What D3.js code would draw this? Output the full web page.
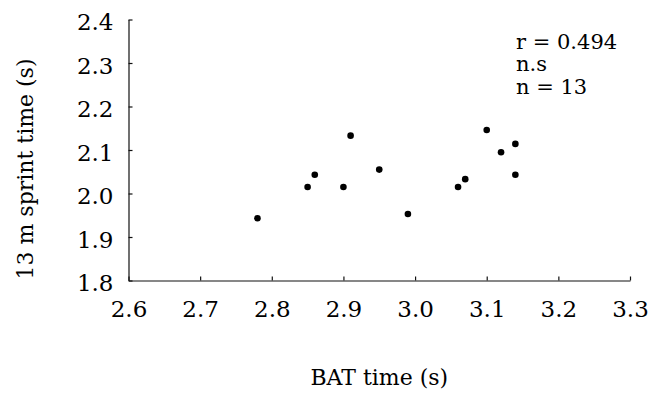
<!DOCTYPE html>
<html>
<head>
<meta charset="utf-8">
<script src="https://cdn.jsdelivr.net/npm/d3@7"></script>
<style>
    body { margin: 0; background: #fff; }
    svg { display: block; }
</style>
</head>
<body>
<div id="container"><svg></svg></div>
<script>
// BAT time (s) vs 13 m sprint time (s), one entry per subject
let bat_time = [2.78, 2.85, 2.86, 2.90, 2.91, 2.95, 2.99, 3.06, 3.07, 3.10, 3.12, 3.14, 3.14];
let sprint_time = [1.943, 2.015, 2.043, 2.015, 2.133, 2.055, 1.953, 2.015, 2.033, 2.146, 2.095, 2.114, 2.043];

let x_ticks = [2.6, 2.7, 2.8, 2.9, 3.0, 3.1, 3.2, 3.3];
let y_ticks = [1.8, 1.9, 2.0, 2.1, 2.2, 2.3, 2.4];
let stat_lines = ['r = 0.494', 'n.s', 'n = 13'];

let fontFamily = 'DejaVu Serif';

function draw_main(width, height) {
    let padding = {'left': 128.5, 'right': width - 630, 'top': 19.5, 'bottom': height - 280.5};
    let svg = d3.select('#container')
        .select('svg')
        .attr('width', width)
        .attr('height', height)
        .style('font-family', fontFamily);

    let data = bat_time.map((d, i) => ({x: d, y: sprint_time[i]}));

    let x = d3.scaleLinear()
        .domain([2.6, 3.3])
        .range([padding.left, width - padding.right]);
    let y = d3.scaleLinear()
        .domain([1.8, 2.4])
        .range([height - padding.bottom, padding.top]);

    // x axis, ticks point inward
    let axis_x = d3.axisBottom(x)
        .tickValues(x_ticks)
        .tickFormat(d3.format('.1f'))
        .tickSizeInner(-4)
        .tickSizeOuter(0)
        .tickPadding(20.5);
    let gx = svg.append('g')
        .attr('transform', `translate(0, ${height - padding.bottom})`)
        .call(axis_x)
        .attr('font-family', null)
        .attr('font-size', null);

    // y axis
    let axis_y = d3.axisLeft(y)
        .tickValues(y_ticks)
        .tickFormat(d3.format('.1f'))
        .tickSizeInner(-4)
        .tickSizeOuter(0)
        .tickPadding(15);
    let gy = svg.append('g')
        .attr('transform', `translate(${padding.left}, 0)`)
        .call(axis_y)
        .attr('font-family', null)
        .attr('font-size', null);
    gy.selectAll('.tick text').attr('dy', '0.45em');

    [gx, gy].forEach(g => {
        g.selectAll('path, line').attr('stroke', '#111').attr('stroke-width', 1.2);
        g.selectAll('text')
            .attr('fill', '#000')
            .style('font-family', fontFamily)
            .style('font-size', '23px');
    });

    // axis labels
    svg.append('text')
        .attr('x', (x.range()[0] + x.range()[1]) / 2)
        .attr('y', 385)
        .attr('text-anchor', 'middle')
        .style('font-size', '22px')
        .text('BAT time (s)');

    svg.append('text')
        .attr('transform', `translate(33, 169) rotate(-90)`)
        .attr('text-anchor', 'middle')
        .style('font-size', '22px')
        .text('13 m sprint time (s)');

    // stats block
    svg.append('g')
        .selectAll('text')
        .data(stat_lines)
        .enter().append('text')
        .attr('x', 516)
        .attr('y', (d, i) => 48.5 + i * 22.5)
        .style('font-size', '21px')
        .text(d => d);

    // points
    svg.append('g')
        .selectAll('circle')
        .data(data)
        .enter().append('circle')
        .attr('cx', d => x(d.x))
        .attr('cy', d => y(d.y))
        .attr('r', 3.3)
        .attr('fill', '#000');
}

draw_main(650, 396);
</script>
</body>
</html>
